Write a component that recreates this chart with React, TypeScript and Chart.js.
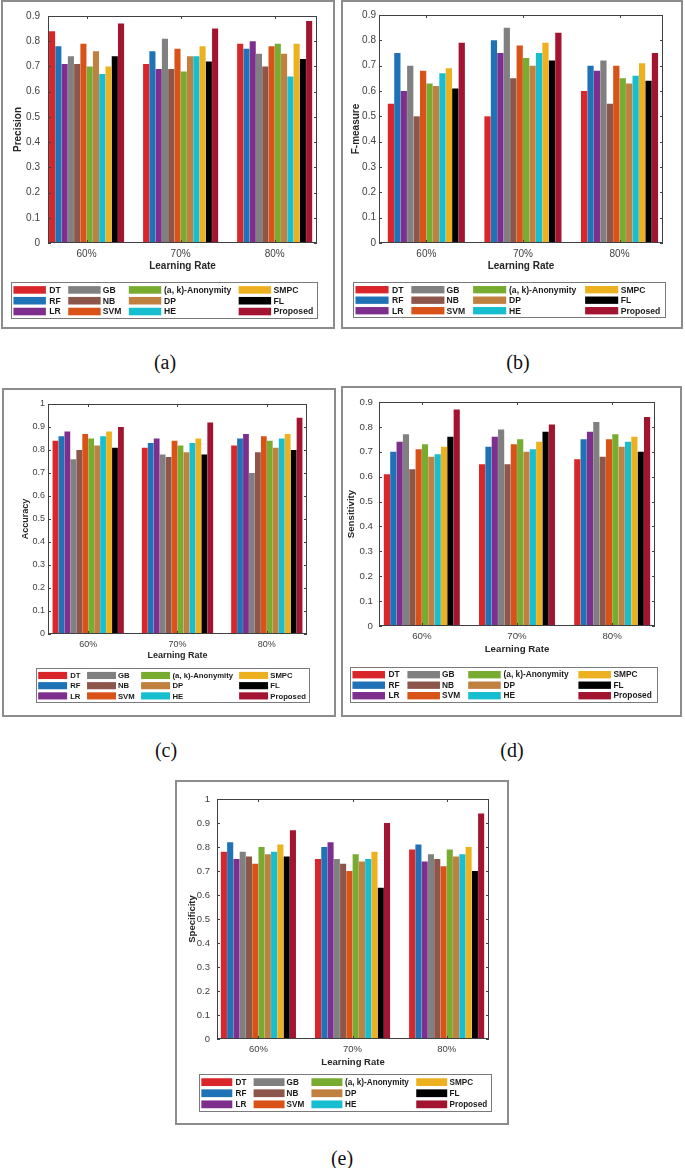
import { useEffect, useRef } from 'react';
import { Chart, registerables } from 'chart.js';

Chart.register(...registerables);
Chart.defaults.font.family = '"Liberation Sans", Arial, sans-serif';

const categories = ['60%', '70%', '80%'];
const methods = ['DT', 'RF', 'LR', 'GB', 'NB', 'SVM', '(a, k)-Anonymity', 'DP', 'HE', 'SMPC', 'FL', 'Proposed'];
const colors = ['#d9262b', '#1f72b6', '#7e2f8e', '#808080', '#8c564b', '#d95319', '#77ac30', '#c0803f', '#17becf', '#edb120', '#000000', '#a2142f'];

// one row per learning rate, one column per method
const precision = [
  [0.84, 0.78, 0.71, 0.74, 0.71, 0.79, 0.7, 0.76, 0.67, 0.7, 0.74, 0.87],
  [0.71, 0.76, 0.69, 0.81, 0.69, 0.77, 0.68, 0.74, 0.74, 0.78, 0.72, 0.85],
  [0.79, 0.77, 0.8, 0.75, 0.7, 0.78, 0.79, 0.75, 0.66, 0.79, 0.73, 0.88],
];
const fMeasure = [
  [0.55, 0.75, 0.6, 0.7, 0.5, 0.68, 0.63, 0.62, 0.67, 0.69, 0.61, 0.79],
  [0.5, 0.8, 0.75, 0.85, 0.65, 0.78, 0.73, 0.7, 0.75, 0.79, 0.72, 0.83],
  [0.6, 0.7, 0.68, 0.72, 0.55, 0.7, 0.65, 0.63, 0.66, 0.71, 0.64, 0.75],
];
const accuracy = [
  [0.84, 0.86, 0.88, 0.76, 0.8, 0.87, 0.85, 0.82, 0.86, 0.88, 0.81, 0.9],
  [0.81, 0.83, 0.85, 0.78, 0.77, 0.84, 0.82, 0.79, 0.83, 0.85, 0.78, 0.92],
  [0.82, 0.85, 0.87, 0.7, 0.79, 0.86, 0.84, 0.81, 0.85, 0.87, 0.8, 0.94],
];
const sensitivity = [
  [0.61, 0.7, 0.74, 0.77, 0.63, 0.71, 0.73, 0.68, 0.69, 0.72, 0.76, 0.87],
  [0.65, 0.72, 0.76, 0.79, 0.65, 0.73, 0.75, 0.7, 0.71, 0.74, 0.78, 0.81],
  [0.67, 0.75, 0.78, 0.82, 0.68, 0.75, 0.77, 0.72, 0.74, 0.76, 0.7, 0.84],
];
const specificity = [
  [0.78, 0.82, 0.75, 0.78, 0.76, 0.73, 0.8, 0.77, 0.78, 0.81, 0.76, 0.87],
  [0.75, 0.8, 0.82, 0.75, 0.73, 0.7, 0.77, 0.74, 0.75, 0.78, 0.63, 0.9],
  [0.79, 0.81, 0.74, 0.77, 0.75, 0.72, 0.79, 0.76, 0.77, 0.8, 0.7, 0.94],
];

type PanelCfg = {
  tag: string;
  yTitle: string;
  values: number[][];
  yMax: number;
  frame: number[]; // left, top, width, height
  plot: number[]; // left, top, right, bottom
  yTitleX: number;
  xTitleY: number;
  tickGap: number;
  legend: number[]; // left, top, right, bottom
  scale: number;
  xMin: number;
  label: number[];
};

const panels: PanelCfg[] = [
  { tag: '(a)', yTitle: 'Precision', values: precision, yMax: 0.9, frame: [1, 0, 334, 329], plot: [48, 15, 317, 243], yTitleX: 18, xTitleY: 266, tickGap: 8, legend: [11, 282, 317, 318], scale: 1, xMin: 0.59, label: [165, 362] },
  { tag: '(b)', yTitle: 'F-measure', values: fMeasure, yMax: 0.9, frame: [341, 0, 342, 329], plot: [379, 15, 663, 243], yTitleX: 356, xTitleY: 266, tickGap: 3, legend: [353, 282, 665, 317], scale: 1, xMin: 0.51, label: [518, 362] },
  { tag: '(c)', yTitle: 'Accuracy', values: accuracy, yMax: 1, frame: [2, 388, 334, 329], plot: [48, 404, 307, 634], yTitleX: 26, xTitleY: 656, tickGap: 3, legend: [36, 668, 309, 702], scale: 0.9, xMin: 0.55, label: [166, 750] },
  { tag: '(d)', yTitle: 'Sensitivity', values: sensitivity, yMax: 0.9, frame: [341, 386, 341, 331], plot: [379, 402, 655, 626], yTitleX: 351, xTitleY: 649, tickGap: 6, legend: [350, 667, 657, 702], scale: 0.97, xMin: 0.55, label: [512, 750] },
  { tag: '(e)', yTitle: 'Specificity', values: specificity, yMax: 1, frame: [175, 780, 334, 345], plot: [217, 799, 489, 1039], yTitleX: 192, xTitleY: 1062, tickGap: 7, legend: [199, 1074, 491, 1111], scale: 0.95, xMin: 0.56, label: [342, 1158] },
];

// axes box with inward ticks, plus the four-column legend underneath
const boxPlugin = {
  id: 'boxLegend',
  afterDraw(chart: any, _args: any, opts: any) {
    const { ctx, chartArea: a, scales } = chart;
    ctx.save();
    ctx.strokeStyle = '#404040';
    ctx.lineWidth = 1;
    ctx.strokeRect(Math.round(a.left) + 0.5, Math.round(a.top) + 0.5, Math.round(a.width) - 1, Math.round(a.height) - 1);
    const t = 3;
    ctx.beginPath();
    scales.y.ticks.forEach((tk: any) => {
      const p = Math.round(scales.y.getPixelForValue(tk.value)) + 0.5;
      ctx.moveTo(a.left, p); ctx.lineTo(a.left + t, p);
      ctx.moveTo(a.right, p); ctx.lineTo(a.right - t, p);
    });
    scales.x.ticks.forEach((tk: any) => {
      const p = Math.round(scales.x.getPixelForValue(tk.value)) + 0.5;
      ctx.moveTo(p, a.bottom); ctx.lineTo(p, a.bottom - t);
      ctx.moveTo(p, a.top); ctx.lineTo(p, a.top + t);
    });
    ctx.stroke();

    const [bx, by, bw, bh] = opts.rect;
    ctx.fillStyle = '#ffffff';
    ctx.fillRect(bx, by, bw, bh);
    ctx.strokeStyle = '#7a7a7a';
    ctx.strokeRect(Math.round(bx) + 0.5, Math.round(by) + 0.5, Math.round(bw), Math.round(bh));
    const swX = [0.008, 0.187, 0.385, 0.744];
    const txX = [0.125, 0.3, 0.5, 0.858];
    const rowY = [0.22, 0.52, 0.82];
    ctx.font = `bold ${opts.fontSize}px "Liberation Sans", Arial, sans-serif`;
    ctx.textBaseline = 'middle';
    chart.data.datasets.forEach((ds: any, i: number) => {
      const col = Math.floor(i / 3);
      const row = i % 3;
      const cy = by + rowY[row] * bh;
      const sh = bh * 0.21;
      ctx.fillStyle = ds.backgroundColor;
      ctx.fillRect(bx + swX[col] * bw, cy - sh / 2, bw * 0.106, sh);
      ctx.fillStyle = '#1a1a1a';
      ctx.fillText(ds.label, bx + txX[col] * bw, cy + 0.5);
    });
    ctx.restore();
  },
};

function Panel({ cfg }: { cfg: PanelCfg }) {
  const canvasRef = useRef<HTMLCanvasElement | null>(null);
  const ox = cfg.frame[0] + 2;
  const oy = cfg.frame[1] + 2;
  const cw = cfg.frame[2] - 4;
  const ch = cfg.frame[3] - 4;

  useEffect(() => {
    if (!canvasRef.current) return;
    const s = cfg.scale;
    const tickSize = 10 * s;
    const titleSize = 10 * s;
    const lh = titleSize * 1.2;
    const [pl, pt, pr, pb] = cfg.plot;
    const yScaleLeft = cfg.yTitleX - lh / 2;
    const xBottom = cfg.xTitleY + lh / 2;
    const yTicks: number[] = [];
    for (let i = 0; i <= Math.round(cfg.yMax * 10); i++) yTicks.push(i / 10);

    const chart = new Chart(canvasRef.current, {
      type: 'bar',
      data: {
        datasets: methods.map((m, i) => ({
          label: m,
          data: categories.map((_, k) => ({ x: k + 1, y: cfg.values[k][i] })),
          backgroundColor: colors[i],
          borderWidth: 0,
          categoryPercentage: 0.8,
          barPercentage: 0.97,
        })),
      },
      options: {
        responsive: false,
        animation: false,
        layout: {
          padding: { left: yScaleLeft - ox, top: pt - oy, right: ox + cw - pr, bottom: oy + ch - xBottom },
        },
        plugins: {
          legend: { display: false },
          tooltip: { enabled: false },
          boxLegend: {
            rect: [cfg.legend[0] - ox, cfg.legend[1] - oy, cfg.legend[2] - cfg.legend[0], cfg.legend[3] - cfg.legend[1]],
            fontSize: 8.6 * s,
          },
        } as any,
        scales: {
          x: {
            type: 'linear',
            min: cfg.xMin,
            max: 3.45,
            offset: false,
            grid: { display: false, drawTicks: false, tickLength: 0 },
            border: { display: false },
            afterBuildTicks: (sc: any) => { sc.ticks = categories.map((_, i) => ({ value: i + 1 })); },
            afterFit: (sc: any) => { sc.height = xBottom - pb; },
            ticks: {
              padding: 5,
              maxRotation: 0,
              autoSkip: false,
              color: '#404040',
              font: { size: tickSize },
              callback: (v: any) => categories[Math.round(Number(v)) - 1] ?? '',
            },
            title: {
              display: true,
              text: 'Learning Rate',
              color: '#262626',
              padding: 0,
              font: { size: titleSize, weight: 'bold' },
            },
          },
          y: {
            min: 0,
            max: cfg.yMax,
            grid: { display: false, drawTicks: false, tickLength: 0 },
            border: { display: false },
            afterBuildTicks: (sc: any) => { sc.ticks = yTicks.map((v) => ({ value: v })); },
            afterFit: (sc: any) => { sc.width = pl - yScaleLeft; },
            ticks: {
              padding: cfg.tickGap,
              color: '#404040',
              font: { size: tickSize },
              callback: (v: any) => String(Math.round(Number(v) * 10) / 10),
            },
            title: {
              display: true,
              text: cfg.yTitle,
              color: '#262626',
              padding: 0,
              font: { size: titleSize, weight: 'bold' },
            },
          },
        },
      } as any,
      plugins: [boxPlugin],
    });

    return () => {
      chart.destroy();
    };
  }, [cfg]);

  return (
    <>
      <div
        style={{
          position: 'absolute',
          left: cfg.frame[0],
          top: cfg.frame[1],
          width: cfg.frame[2],
          height: cfg.frame[3],
          boxSizing: 'border-box',
          border: '2px solid #8c8c8c',
        }}
      >
        <canvas ref={canvasRef} width={cw} height={ch} style={{ position: 'absolute', left: 0, top: 0, width: cw, height: ch }} />
      </div>
      <div
        style={{
          position: 'absolute',
          left: cfg.label[0],
          top: cfg.label[1],
          transform: 'translate(-50%, -50%)',
          fontFamily: '"Liberation Serif", "Times New Roman", serif',
          fontSize: 20,
          lineHeight: 1,
          color: '#111',
        }}
      >
        {cfg.tag}
      </div>
    </>
  );
}

export default function App() {
  return (
    <div style={{ position: 'absolute', left: 0, top: 0, width: 685, height: 1168, background: '#fff' }}>
      {panels.map((p) => (
        <Panel key={p.tag} cfg={p} />
      ))}
    </div>
  );
}
